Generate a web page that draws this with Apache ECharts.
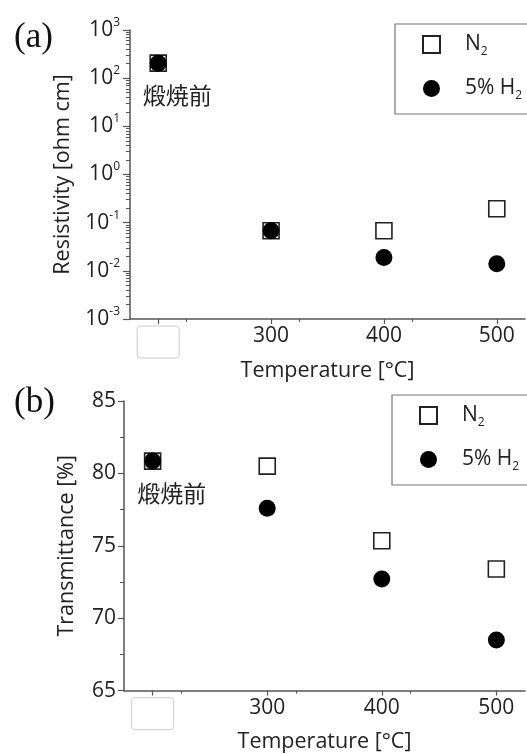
<!DOCTYPE html>
<html>
<head>
<meta charset="utf-8">
<script src="https://cdn.jsdelivr.net/npm/echarts@6/dist/echarts.min.js"></script>
<style>
html,body{margin:0;padding:0;background:#fff;}
#c{width:527px;height:754px;}
</style>
</head>
<body>
<div id="c"></div>
<script>
// x positions: 200 stands for the "before firing" (煅焼前) sample
var temps = [200, 300, 400, 500];
var preLabel = '煅焼前';
var seriesNames = ['N{sub|2}', '5% H{sub|2}'];
// (a) resistivity [ohm cm]
var resN2 = [205, 0.068, 0.068, 0.195];
var resH2 = [205, 0.068, 0.019, 0.014];
// (b) transmittance [%]
var trN2 = [80.85, 80.5, 75.35, 73.4];
var trH2 = [80.85, 77.6, 72.7, 68.5];
var xTicks = [200, 300, 400, 500];

var FONT = 'Open Sans';
var AX = '#555';
var TXT = '#222';

function pts(vals, withLabel) {
  return temps.map(function (t, i) {
    var d = { value: [t, vals[i]] };
    if (withLabel && i === 0) {
      d.label = {
        show: true, formatter: preLabel, position: 'bottom',
        offset: [19, 7], fontSize: 23, color: TXT,
        fontFamily: 'Noto Sans CJK JP'
      };
    }
    return d;
  });
}

function xAxis(idx) {
  return {
    gridIndex: idx, type: 'value', min: 175, max: 525, interval: 100,
    name: 'Temperature [°C]', nameLocation: 'middle', nameGap: 34,
    nameTextStyle: { fontFamily: FONT, fontSize: 21.5, color: TXT },
    axisLine: { show: true, onZero: false, lineStyle: { color: AX, width: 1.5 } },
    axisTick: { show: true, length: 5, lineStyle: { color: AX, width: 1.2 },
      customValues: xTicks },
    minorTick: { show: true, splitNumber: 2, length: 3, lineStyle: { color: AX, width: 1 } },
    splitLine: { show: false },
    axisLabel: {
      margin: 7, fontFamily: FONT, fontSize: 21, color: TXT,
      customValues: xTicks,
      formatter: function (v) { return v === 200 ? '{box|}' : String(v); },
      rich: {
        box: { width: 42, height: 32, borderColor: '#ccc', borderWidth: 1, borderRadius: 3 }
      }
    }
  };
}

var legendBase = {
  orient: 'vertical', itemWidth: 17, itemHeight: 17, itemGap: 20,
  borderColor: '#777', borderWidth: 1.2, padding: [10, 30, 12, 27],
  textStyle: {
    fontFamily: FONT, fontSize: 21, color: TXT, padding: [0, 0, 0, 20],
    rich: { sub: { fontFamily: FONT, fontSize: 12, color: TXT, padding: [15, 0, 0, 0] } }
  },
  formatter: function (n) { return n; },
  data: seriesNames
};

var sq = { symbol: 'rect', symbolSize: 16, itemStyle: { color: '#fff', borderColor: '#222', borderWidth: 1.6, opacity: 1 } };
var ci = { symbol: 'circle', symbolSize: 17, itemStyle: { color: '#000', opacity: 1 } };

var option = {
  animation: false,
  title: [
    { text: '(a)', left: 9, top: 15, textStyle: { fontFamily: 'Liberation Serif', fontSize: 35, fontWeight: 'normal', color: '#111' } },
    { text: '(b)', left: 9, top: 380, textStyle: { fontFamily: 'Liberation Serif', fontSize: 35, fontWeight: 'normal', color: '#111' } }
  ],
  legend: [
    Object.assign({}, legendBase, { left: 395, top: 24 }),
    Object.assign({}, legendBase, { left: 392, top: 395 })
  ],
  grid: [
    { left: 130, top: 30, right: 2, height: 289 },
    { left: 124, top: 401, right: 2, height: 296 }
  ],
  xAxis: [xAxis(0), xAxis(1)],
  yAxis: [
    {
      gridIndex: 0, type: 'log', logBase: 10, min: 0.001, max: 1000, splitNumber: 6,
      name: 'Resistivity [ohm cm]', nameLocation: 'middle', nameGap: 51,
      nameTextStyle: { fontFamily: FONT, fontSize: 21.5, color: TXT },
      axisLine: { show: true, lineStyle: { color: AX, width: 1.5 } },
      axisTick: { show: true, length: 7, lineStyle: { color: AX, width: 1.2 } },
      minorTick: { show: true, splitNumber: 9, length: 4, lineStyle: { color: AX, width: 1 } },
      splitLine: { show: false },
      axisLabel: {
        margin: 10, fontFamily: FONT, fontSize: 21, color: TXT,
        formatter: function (v) { return '10{sup|' + Math.round(Math.log10(v)) + '}'; },
        rich: { sup: { fontFamily: FONT, fontSize: 12, color: TXT, padding: [0, 0, 15, 0] } }
      }
    },
    {
      gridIndex: 1, type: 'value', min: 65, max: 85, interval: 5,
      name: 'Transmittance [%]', nameLocation: 'middle', nameGap: 46,
      nameTextStyle: { fontFamily: FONT, fontSize: 21.5, color: TXT },
      axisLine: { show: true, lineStyle: { color: AX, width: 1.5 } },
      axisTick: { show: true, length: 6, lineStyle: { color: AX, width: 1.2 } },
      minorTick: { show: true, splitNumber: 2, length: 4, lineStyle: { color: AX, width: 1 } },
      splitLine: { show: false },
      axisLabel: { margin: 8, fontFamily: FONT, fontSize: 21, color: TXT }
    }
  ],
  series: [
    Object.assign({ name: seriesNames[0], type: 'scatter', xAxisIndex: 0, yAxisIndex: 0, data: pts(resN2, true), z: 2 }, JSON.parse(JSON.stringify(sq))),
    Object.assign({ name: seriesNames[1], type: 'scatter', xAxisIndex: 0, yAxisIndex: 0, data: pts(resH2, false), z: 3 }, JSON.parse(JSON.stringify(ci))),
    Object.assign({ name: seriesNames[0], type: 'scatter', xAxisIndex: 1, yAxisIndex: 1, data: pts(trN2, true), z: 2 }, JSON.parse(JSON.stringify(sq))),
    Object.assign({ name: seriesNames[1], type: 'scatter', xAxisIndex: 1, yAxisIndex: 1, data: pts(trH2, false), z: 3 }, JSON.parse(JSON.stringify(ci)))
  ]
};
var chart = echarts.init(document.getElementById('c'), null, { renderer: 'canvas' });
chart.setOption(option);
</script>
</body>
</html>
